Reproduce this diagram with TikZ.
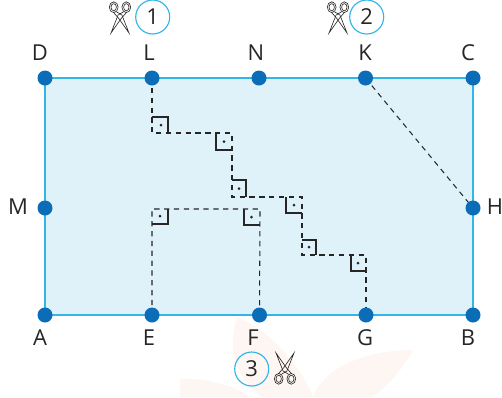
\documentclass[tikz,border=0pt]{standalone}
\usepackage{fontspec}
\setmainfont{Open Sans}
\definecolor{sheetfill}{HTML}{DFF1F9}
\definecolor{sheetline}{HTML}{33B5E8}
\definecolor{dotblue}{HTML}{0B6DB7}
\definecolor{petal}{HTML}{FDF6F3}
\definecolor{inkgrey}{HTML}{262626}
\tikzset{
  ptdot/.style={circle,fill=dotblue,inner sep=0pt,minimum size=.3cm},
  ptlabel/.style={inner sep=0pt,text=inkgrey,font=\fontsize{12.5}{15}\selectfont},
  stepnum/.style={circle,draw=sheetline,line width=.65pt,minimum size=.68cm,inner sep=0pt,text=inkgrey,font=\fontsize{12.5}{15}\selectfont},
  cutline/.style={dash pattern=on 3pt off 2.6pt,line width=.6pt,inkgrey},
  corner/.style={line width=.65pt,inkgrey},
  bladeline/.style={line width=.35pt,inkgrey},
  scissors/.pic={
    \draw[bladeline] (-6.3,-8.8) ellipse (4.4 and 5.4) (-6.3,-8.8) ellipse (2.7 and 3.6);
    \draw[bladeline] (6.3,-8.8) ellipse (4.4 and 5.4) (6.3,-8.8) ellipse (2.7 and 3.6);
    \draw[bladeline] (-3.5,-4.2) -- (1.9,-1) -- (9,17) -- (-1.4,2.2) -- (-6.5,-3.6);
    \draw[bladeline] (3.5,-4.2) -- (-1.9,-1) -- (-9,17) -- (1.4,2.2) -- (6.5,-3.6);
  }
}
\begin{document}
\begin{tikzpicture}[x=.02cm,y=-.02cm]
\useasboundingbox (0,0) rectangle (502,397);
% flower behind the sheet
\fill[petal] (237,317) .. controls (228,345) and (232,375) .. (262,397) -- (313,397) .. controls (300,365) and (270,330) .. (237,317);
\fill[petal] (180,379) .. controls (205,378) and (235,385) .. (250,397) -- (180,397) -- cycle;
\fill[petal] (413,350) .. controls (370,350) and (325,365) .. (313,397) -- (372,397) .. controls (390,385) and (405,365) .. (413,350);
\draw[sheetline,fill=sheetfill,line width=.6pt] (45,78) rectangle (473,315);
% points on the sheet
\coordinate (d) at (45,78);
\coordinate (c) at (473,78);
\coordinate (a) at (45,315);
\coordinate (b) at (473,315);
\coordinate (l) at (152,78);
\coordinate (n) at (259,78);
\coordinate (k) at (365.5,78);
\coordinate (e) at (152,315);
\coordinate (f) at (259.5,315);
\coordinate (g) at (366,315);
\coordinate (m) at (45,208);
\coordinate (h) at (473,208);
% cuts
\coordinate (p1) at (152,133);
\coordinate (p2) at (232,133);
\coordinate (p3) at (232,197);
\coordinate (p4) at (302,197);
\coordinate (p5) at (302,255);
\coordinate (p6) at (366,255);
\coordinate (q1) at (152,209);
\coordinate (q2) at (260,209);
\draw[cutline] (l) -- (p1) -- (p2) -- (p3) -- (p4) -- (p5) -- (p6) -- (g);
\draw[cutline] (e) -- (q1) -- (q2) -- (f);
\draw[cutline] (k) -- (h);
% right angles
\draw[corner] (152,117) -- (168,117) -- (168,133);
\draw[corner] (216,133) -- (216,150) -- (232,150);
\draw[corner] (232,180) -- (246,180) -- (246,197);
\draw[corner] (286,197) -- (286,213) -- (302,213);
\draw[corner] (302,240) -- (316,240) -- (316,255);
\draw[corner] (351,255) -- (351,271) -- (366,271);
\draw[corner] (168,209) -- (168,224) -- (152,224);
\draw[corner] (244,209) -- (244,225) -- (260,225);
\foreach \x/\y in {161/125,224/141.5,239/188.5,294/205,309/247,358/263,160/216,251.5/217}
  \fill[inkgrey] (\x,\y) circle (1.5);
% dots
\foreach \p in {a,b,c,d,e,f,g,h,k,l,m,n}
  \node[ptdot] (dot\p) at (\p) {};
% labels
\node[ptlabel] (labD) at (40,53) {D};
\node[ptlabel] (labL) at (149,53) {L};
\node[ptlabel] (labN) at (256,53) {N};
\node[ptlabel] (labK) at (365,53) {K};
\node[ptlabel] (labC) at (468,53) {C};
\node[ptlabel] (labM) at (18,207) {M};
\node[ptlabel] (labH) at (495,207) {H};
\node[ptlabel] (labA) at (40,338) {A};
\node[ptlabel] (labE) at (149,338) {E};
\node[ptlabel] (labF) at (253,338) {F};
\node[ptlabel] (labG) at (365,338) {G};
\node[ptlabel] (labB) at (468,338) {B};
% steps
\node[stepnum] (one) at (152.7,17) {1};
\node[stepnum] (two) at (366.7,17) {2};
\node[stepnum] (three) at (251.7,369) {3};
\pic at (120,16) {scissors};
\pic at (338,16) {scissors};
\pic[rotate=180] at (285,370) {scissors};
\end{tikzpicture}
\end{document}
